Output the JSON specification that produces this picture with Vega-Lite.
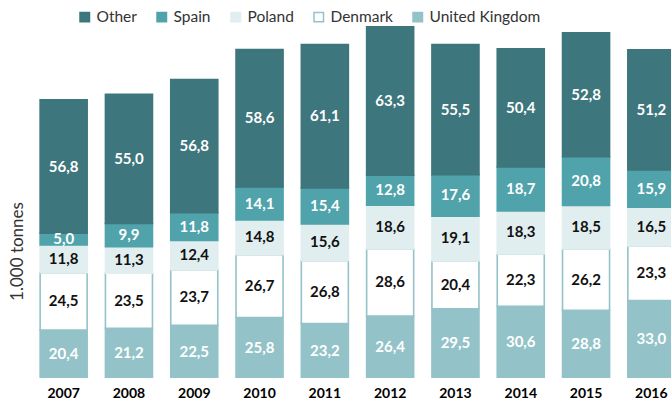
{
  "$schema": "https://vega.github.io/schema/vega-lite/v6.json",
  "autosize": "none",
  "width": 640,
  "height": 352,
  "padding": {"left": 31, "top": 26, "right": 0, "bottom": 25},
  "background": "white",
  "config": {"view": {"stroke": null}, "font": "Lato"},
  "data": {"values": [
    {"year": "2007", "country": "United Kingdom", "value": 20.4},
    {"year": "2007", "country": "Denmark", "value": 24.5},
    {"year": "2007", "country": "Poland", "value": 11.8},
    {"year": "2007", "country": "Spain", "value": 5.0},
    {"year": "2007", "country": "Other", "value": 56.8},
    {"year": "2008", "country": "United Kingdom", "value": 21.2},
    {"year": "2008", "country": "Denmark", "value": 23.5},
    {"year": "2008", "country": "Poland", "value": 11.3},
    {"year": "2008", "country": "Spain", "value": 9.9},
    {"year": "2008", "country": "Other", "value": 55.0},
    {"year": "2009", "country": "United Kingdom", "value": 22.5},
    {"year": "2009", "country": "Denmark", "value": 23.7},
    {"year": "2009", "country": "Poland", "value": 12.4},
    {"year": "2009", "country": "Spain", "value": 11.8},
    {"year": "2009", "country": "Other", "value": 56.8},
    {"year": "2010", "country": "United Kingdom", "value": 25.8},
    {"year": "2010", "country": "Denmark", "value": 26.7},
    {"year": "2010", "country": "Poland", "value": 14.8},
    {"year": "2010", "country": "Spain", "value": 14.1},
    {"year": "2010", "country": "Other", "value": 58.6},
    {"year": "2011", "country": "United Kingdom", "value": 23.2},
    {"year": "2011", "country": "Denmark", "value": 26.8},
    {"year": "2011", "country": "Poland", "value": 15.6},
    {"year": "2011", "country": "Spain", "value": 15.4},
    {"year": "2011", "country": "Other", "value": 61.1},
    {"year": "2012", "country": "United Kingdom", "value": 26.4},
    {"year": "2012", "country": "Denmark", "value": 28.6},
    {"year": "2012", "country": "Poland", "value": 18.6},
    {"year": "2012", "country": "Spain", "value": 12.8},
    {"year": "2012", "country": "Other", "value": 63.3},
    {"year": "2013", "country": "United Kingdom", "value": 29.5},
    {"year": "2013", "country": "Denmark", "value": 20.4},
    {"year": "2013", "country": "Poland", "value": 19.1},
    {"year": "2013", "country": "Spain", "value": 17.6},
    {"year": "2013", "country": "Other", "value": 55.5},
    {"year": "2014", "country": "United Kingdom", "value": 30.6},
    {"year": "2014", "country": "Denmark", "value": 22.3},
    {"year": "2014", "country": "Poland", "value": 18.3},
    {"year": "2014", "country": "Spain", "value": 18.7},
    {"year": "2014", "country": "Other", "value": 50.4},
    {"year": "2015", "country": "United Kingdom", "value": 28.8},
    {"year": "2015", "country": "Denmark", "value": 26.2},
    {"year": "2015", "country": "Poland", "value": 18.5},
    {"year": "2015", "country": "Spain", "value": 20.8},
    {"year": "2015", "country": "Other", "value": 52.8},
    {"year": "2016", "country": "United Kingdom", "value": 33.0},
    {"year": "2016", "country": "Denmark", "value": 23.3},
    {"year": "2016", "country": "Poland", "value": 16.5},
    {"year": "2016", "country": "Spain", "value": 15.9},
    {"year": "2016", "country": "Other", "value": 51.2}
  ]},
  "transform": [
    {"calculate": "indexof(['United Kingdom','Denmark','Poland','Spain','Other'], datum.country)", "as": "order"},
    {"stack": "value", "groupby": ["year"], "sort": [{"field": "order", "order": "ascending"}], "as": ["v0", "v1"]},
    {"calculate": "(datum.v0 + datum.v1) / 2", "as": "mid"},
    {"calculate": "replace(format(datum.value, '.1f'), '.', ',')", "as": "label"}
  ],
  "encoding": {
    "x": {
      "field": "year", "type": "nominal", "sort": null,
      "scale": {"range": [0, 653], "paddingInner": 0.28, "paddingOuter": 0.14},
      "axis": {
        "title": null, "domain": false, "ticks": false, "labelAngle": 0,
        "labelPadding": 8, "labelFont": "Lato", "labelFontSize": 14,
        "labelFontWeight": "bold", "labelColor": "#000000"
      }
    }
  },
  "layer": [
    {
      "mark": {"type": "bar", "strokeWidth": 1.6, "clip": true},
      "encoding": {
        "y": {
          "field": "v0", "type": "quantitative",
          "scale": {"domain": [0, 150], "nice": false, "zero": true},
          "axis": {
            "labels": false, "ticks": false, "domain": false, "grid": false,
            "title": "1.000 tonnes", "titleFont": "Lato", "titleFontSize": 17,
            "titleFontWeight": "normal", "titleColor": "#333333",
            "titleX": -14, "titleY": 225, "titleAngle": -90,
            "titleAlign": "center", "titleBaseline": "middle"
          }
        },
        "y2": {"field": "v1"},
        "fill": {
          "field": "country", "type": "nominal",
          "scale": {
            "domain": ["Other", "Spain", "Poland", "Denmark", "United Kingdom"],
            "range": ["#3D767C", "#50A3AB", "#E1EEEF", "#FFFFFF", "#93C3C8"]
          },
          "legend": {
            "title": null, "orient": "none", "direction": "horizontal",
            "legendX": 46, "legendY": -17, "padding": 0,
            "symbolType": "square", "symbolSize": 90, "symbolStrokeWidth": 1.5,
            "labelFont": "Lato", "labelFontSize": 15.5, "labelColor": "#333333",
            "labelOffset": 4, "columnPadding": 17
          }
        },
        "stroke": {
          "field": "country", "type": "nominal",
          "scale": {
            "domain": ["Other", "Spain", "Poland", "Denmark", "United Kingdom"],
            "range": ["#3D767C", "#50A3AB", "#E1EEEF", "#93C3C8", "#93C3C8"]
          },
          "legend": {
            "title": null, "orient": "none", "direction": "horizontal",
            "legendX": 46, "legendY": -17, "padding": 0,
            "symbolType": "square", "symbolSize": 90, "symbolStrokeWidth": 1.5,
            "labelFont": "Lato", "labelFontSize": 15.5, "labelColor": "#333333",
            "labelOffset": 4, "columnPadding": 17
          }
        }
      }
    },
    {
      "mark": {"type": "text", "font": "Lato", "fontSize": 15, "fontWeight": "bold", "baseline": "middle", "align": "center"},
      "encoding": {
        "y": {"field": "mid", "type": "quantitative"},
        "text": {"field": "label"},
        "color": {
          "condition": {"test": "datum.country === 'Denmark' || datum.country === 'Poland'", "value": "#111111"},
          "value": "#FFFFFF"
        }
      }
    }
  ]
}
